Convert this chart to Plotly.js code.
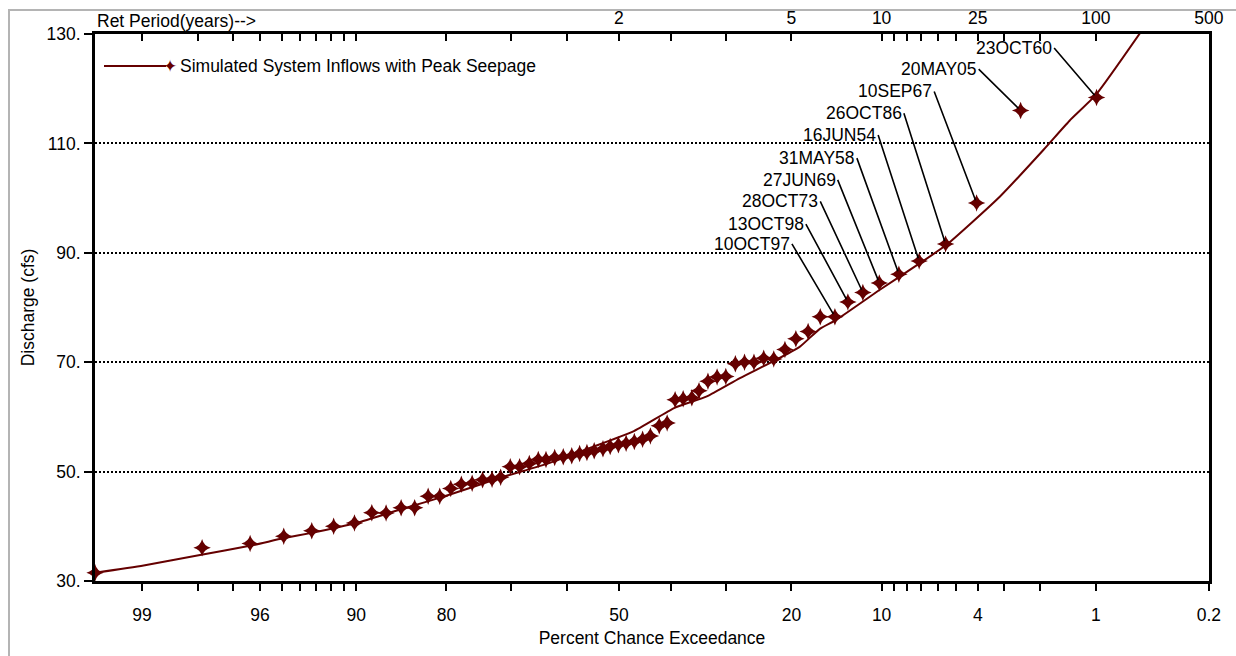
<!DOCTYPE html>
<html>
<head>
<meta charset="utf-8">
<script src="https://cdn.plot.ly/plotly-3.0.1.min.js"></script>
<style>
  html, body { margin: 0; padding: 0; background: #fff; overflow: hidden; }
  #chart { width: 1236px; height: 656px; position: relative; }
  #frame { position: absolute; left: 8px; top: 9px; width: 1400px; height: 800px;
           border-left: 2px solid #b4b4b4; border-top: 2px solid #b4b4b4; pointer-events: none; }
</style>
</head>
<body>
<div id="chart"></div>
<div id="frame"></div>
<script>
// ---- Data (percent chance exceedance, discharge in cfs) ----
const pointPct = [99.47, 97.9, 96.4, 94.9, 93.3, 91.8, 90.15, 88.6, 87.2, 85.6,
  84.05, 82.4, 80.9, 79.4, 77.9, 76.3, 74.7, 73.2, 71.8, 70.2,
  68.6, 66.9, 65.3, 63.9, 62.3, 60.7, 59.1, 57.6, 56.2, 54.8,
  53.1, 51.7, 50.1, 48.6, 47.0, 45.4, 43.9, 42.2, 40.7, 39.2,
  37.7, 36.1, 34.8, 33.2, 31.6, 30.1, 28.5, 27.0, 25.5, 24.0,
  22.5, 20.9, 19.4, 17.8, 16.3, 14.6, 13.2, 11.7, 10.2, 8.6,
  7.15, 5.55, 4.05, 2.5, 0.99];
const pointVal = [31.5, 36.1, 36.85, 38.2, 39.2, 40.0, 40.6, 42.5, 42.45, 43.4,
  43.4, 45.5, 45.5, 46.9, 47.7, 47.85, 48.5, 48.6, 48.96, 50.9,
  50.9, 51.46, 52.2, 52.2, 52.6, 52.7, 52.9, 53.3, 53.5, 53.8,
  54.2, 54.6, 54.9, 55.2, 55.5, 55.9, 56.5, 58.4, 58.9, 63.15,
  63.3, 63.5, 64.8, 66.5, 67.3, 67.4, 69.7, 70.0, 70.0, 70.7,
  70.6, 72.3, 74.3, 75.6, 78.3, 78.3, 81.0, 82.75, 84.5, 86.1,
  88.5, 91.6, 99.1, 116.0, 118.4];

const curvePct = [99.47, 98.98, 97.95, 96.41, 94.93, 93.3, 90.0, 85.7, 79.5, 71.9,
  63.2, 55.6, 47.3, 39.2, 33.4, 27.75, 22.6, 18.9, 16.35, 14.4,
  10.15, 7.1, 5.5, 3.15, 1.92, 1.40, 1.0, 0.544];
const curveVal = [31.5, 32.83, 34.75, 36.43, 37.8, 38.8, 40.6, 43.06, 45.8, 48.85,
  51.6, 54.33, 57.3, 61.7, 63.75, 67.1, 70.15, 72.8, 76.1, 77.8,
  83.25, 88.1, 91.46, 100.3, 108.8, 114.1, 118.86, 130.4];

// labelled events (point index -> date label)
const eventIndex = [55, 56, 57, 58, 59, 60, 61, 62, 63, 64];
const eventLabel = ["10OCT97", "13OCT98", "28OCT73", "27JUN69", "31MAY58",
                    "16JUN54", "26OCT86", "10SEP67", "20MAY05", "23OCT60"];

// axis ticks
const tickPct = [99, 98, 97, 96, 95, 94, 93, 92, 91, 90, 80, 70, 60, 50, 40, 30, 20,
                 10, 9, 8, 7, 6, 5, 4, 3, 2, 1, 0.2];
const bottomLabels = {99: "99", 96: "96", 90: "90", 80: "80", 50: "50", 20: "20",
                      10: "10", 4: "4", 1: "1", 0.2: "0.2"};
const topLabels = {50: "2", 20: "5", 10: "10", 4: "25", 1: "100", 0.2: "500"};
const yTicks = [30, 50, 70, 90, 110, 130];
const yTickText = ["30.", "50.", "70.", "90.", "110.", "130."];

// label leader-line offsets (px, layout only)
const labelOffsets = [[-43, -73], [-42, -78], [-42.6, -91], [-41.6, -103], [-42, -116],
                      [-41, -126], [-41.7, -130.7], [-42.4, -111.6], [-42, -41.4], [-42.4, -49.4]];

// ---- Normal probability scale ----
function invNorm(p) {
  const a = [-3.969683028665376e+01, 2.209460984245205e+02, -2.759285104469687e+02, 1.383577518672690e+02, -3.066479806614716e+01, 2.506628277459239e+00];
  const b = [-5.447609879822406e+01, 1.615858368580409e+02, -1.556989798598866e+02, 6.680131188771972e+01, -1.328068155288572e+01];
  const c = [-7.784894002430293e-03, -3.223964580411365e-01, -2.400758277161838e+00, -2.549732539343734e+00, 4.374664141464968e+00, 2.938163982698783e+00];
  const d = [7.784695709041462e-03, 3.224671290700398e-01, 2.445134137142996e+00, 3.754408661907416e+00];
  const pl = 0.02425, ph = 1 - pl;
  let q, r;
  if (p < pl) {
    q = Math.sqrt(-2 * Math.log(p));
    return (((((c[0]*q+c[1])*q+c[2])*q+c[3])*q+c[4])*q+c[5]) / ((((d[0]*q+d[1])*q+d[2])*q+d[3])*q+1);
  }
  if (p <= ph) {
    q = p - 0.5; r = q * q;
    return (((((a[0]*r+a[1])*r+a[2])*r+a[3])*r+a[4])*r+a[5])*q / (((((b[0]*r+b[1])*r+b[2])*r+b[3])*r+b[4])*r+1);
  }
  q = Math.sqrt(-2 * Math.log(1 - p));
  return -(((((c[0]*q+c[1])*q+c[2])*q+c[3])*q+c[4])*q+c[5]) / ((((d[0]*q+d[1])*q+d[2])*q+d[3])*q+1);
}
const zOf = pct => invNorm(1 - pct / 100);

const FONT = "Liberation Sans, Arial, sans-serif";
const FS = 17.5;
const RED = "#650000";

const xRange = [-2.556, zOf(0.2) + 0.0006];
const tickZ = tickPct.map(zOf);

const traces = [
  {
    x: curvePct.map(zOf), y: curveVal, xaxis: "x2", yaxis: "y",
    type: "scatter", mode: "lines",
    line: {color: RED, width: 2, shape: "spline", smoothing: 0.5},
    hoverinfo: "skip", showlegend: false, cliponaxis: true
  },
  {
    x: pointPct.map(zOf), y: pointVal, xaxis: "x", yaxis: "y",
    type: "scatter", mode: "markers",
    marker: {symbol: "star-diamond", size: 12.5, color: RED, line: {width: 0}},
    name: "Simulated System Inflows with Peak Seepage",
    showlegend: false, cliponaxis: false
  }
];

const annotations = eventIndex.map((idx, i) => ({
  x: zOf(pointPct[idx]), y: pointVal[idx], xref: "x", yref: "y",
  text: eventLabel[i],
  showarrow: true, arrowhead: 0, arrowwidth: 1.6, arrowcolor: "#000",
  ax: labelOffsets[i][0], ay: labelOffsets[i][1],
  xanchor: "right", yanchor: "middle", standoff: 3,
  font: {family: FONT, size: FS, color: "#000"}
}));

const W = 1114, H = 547.5, L = 95, T = 34;
const px = v => (v - L) / W;
const py = v => (T + H - v) / H;

annotations.push({
  xref: "paper", yref: "paper", x: px(95), y: py(21), xanchor: "left", yanchor: "middle",
  text: "Ret Period(years)-->", showarrow: false,
  font: {family: FONT, size: FS, color: "#000"}
});
// legend text + marker glyph
annotations.push({
  xref: "paper", yref: "paper", x: px(178), y: py(66), xanchor: "left", yanchor: "middle",
  text: "Simulated System Inflows with Peak Seepage", showarrow: false,
  font: {family: FONT, size: FS, color: "#000"}
});
annotations.push({
  xref: "paper", yref: "paper", x: px(170), y: py(66), xanchor: "center", yanchor: "middle",
  text: "\u2726", showarrow: false,
  font: {family: "DejaVu Sans", size: 17, color: RED}
});

const shapes = [
  {type: "line", xref: "paper", yref: "paper", x0: px(104), x1: px(166), y0: py(66), y1: py(66),
   line: {color: RED, width: 2}}
];

const axisCommon = {
  range: xRange, tickmode: "array", tickvals: tickZ,
  showgrid: false, zeroline: false, showline: true, linecolor: "#000", linewidth: 3,
  tickcolor: "#000", tickwidth: 2, ticklen: 7,
  tickfont: {family: FONT, size: FS, color: "#000"}
};

const layout = {
  width: 1236, height: 656,
  margin: {l: L, r: 1236 - L - W, t: T, b: 656 - T - H},
  paper_bgcolor: "rgba(0,0,0,0)", plot_bgcolor: "#fff",
  showlegend: false,
  font: {family: FONT, size: FS, color: "#000"},
  xaxis: Object.assign({}, axisCommon, {
    ticktext: tickPct.map(p => bottomLabels[p] || ""),
    ticks: "outside", side: "bottom", anchor: "y",
    ticklabelstandoff: 9,
    title: {text: "Percent Chance Exceedance", font: {family: FONT, size: FS, color: "#000"}, standoff: 8}
  }),
  xaxis2: Object.assign({}, axisCommon, {
    ticktext: tickPct.map(p => topLabels[p] || ""),
    ticks: "inside", side: "top", overlaying: "x", anchor: "y"
  }),
  yaxis: {
    range: [30, 130], tickmode: "array", tickvals: yTicks, ticktext: yTickText,
    showgrid: true, gridcolor: "#000", gridwidth: 2, griddash: "2px,2px",
    zeroline: false, showline: true, mirror: true, linecolor: "#000", linewidth: 3,
    ticks: "outside", ticklen: 8, tickwidth: 2, tickcolor: "#000",
    tickfont: {family: FONT, size: FS, color: "#000"},
    title: {text: "Discharge (cfs)", font: {family: FONT, size: FS, color: "#000"}, standoff: 8}
  },
  annotations: annotations,
  shapes: shapes
};

Plotly.newPlot("chart", traces, layout, {staticPlot: true, displayModeBar: false});
</script>
</body>
</html>
